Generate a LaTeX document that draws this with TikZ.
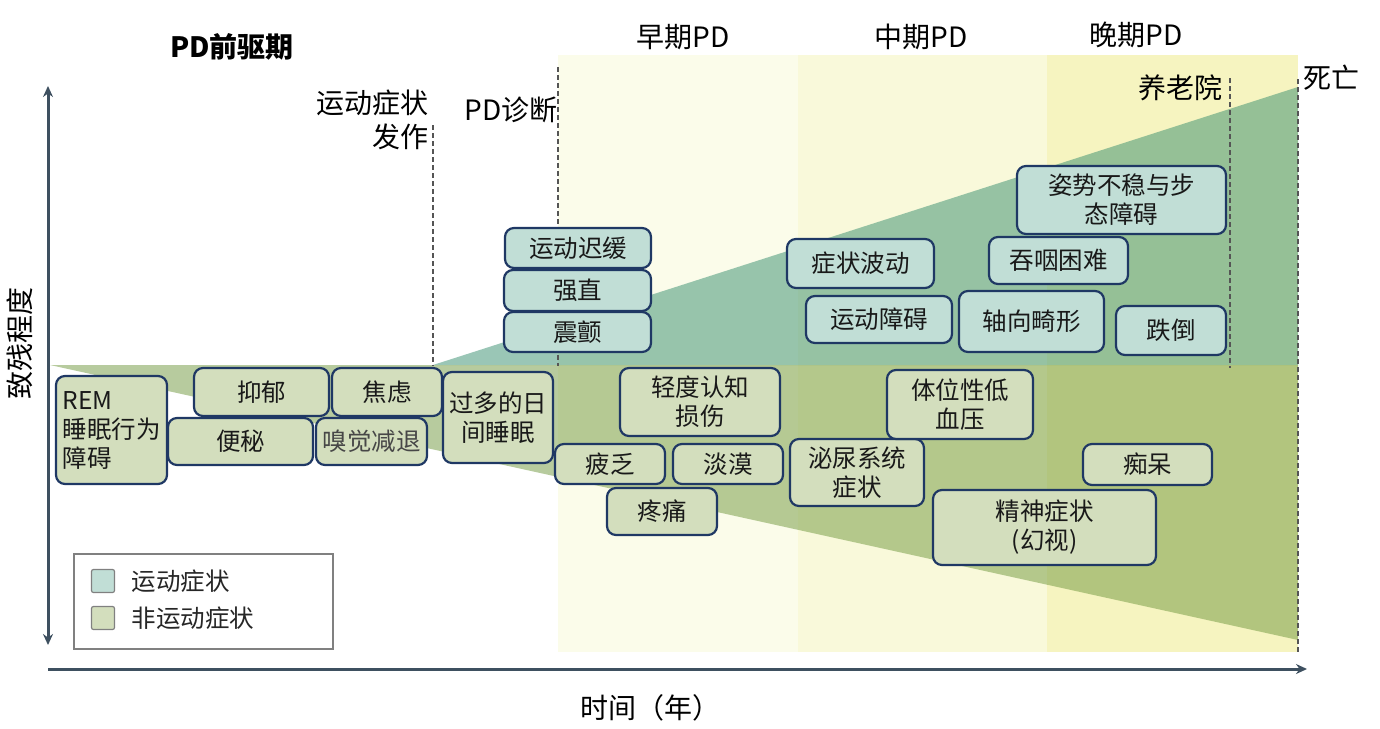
\documentclass[tikz,border=0pt]{standalone}
\usepackage{fontspec}
\setmainfont{Noto Sans CJK SC}
\usetikzlibrary{positioning,arrows.meta}

\definecolor{earlybg}{RGB}{251,252,234}
\definecolor{midbg}{RGB}{249,249,218}
\definecolor{latebg}{RGB}{246,244,192}
\definecolor{motorwedge}{RGB}{53,141,109}
\definecolor{nonmotorwedge}{RGB}{112,152,62}
\definecolor{motorfill}{RGB}{193,222,214}
\definecolor{nonmotorfill}{RGB}{211,222,189}
\definecolor{boxblue}{RGB}{31,56,100}
\definecolor{axisgray}{RGB}{62,80,96}
\definecolor{dashgray}{RGB}{85,85,85}

\newcommand\boxfont{\fontsize{24.5}{29}\selectfont}
\newcommand\labelfont{\fontsize{28}{34}\selectfont}

\begin{document}
\begin{tikzpicture}[x=1pt,y=-1pt,
    symbox/.style={draw=boxblue,line width=2.2pt,rounded corners=9pt,inner sep=0pt,align=center,font=\boxfont,text=black!90},
    motor/.style={symbox,fill=motorfill},
    nonmotor/.style={symbox,fill=nonmotorfill},
    phase/.style={font=\labelfont,text=black,inner sep=0pt},
    markline/.style={draw=dashgray,line width=1.5pt,dash pattern=on 5pt off 3pt},
    axisline/.style={draw=axisgray,line width=3pt},
    legendkey/.style={draw=gray,line width=1.2pt,rounded corners=2pt,minimum size=23pt,inner sep=0pt}]
    \useasboundingbox (0,0) rectangle (1380,728);
    %% stage panels
    \fill[earlybg] (558,55) rectangle (798,652);
    \fill[midbg] (798,55) rectangle (1047,652);
    \fill[latebg] (1047,55) rectangle (1298,652);
    %% wedges
    \fill[motorwedge,fill opacity=0.5] (433,365) -- (1298,87) -- (1298,365) -- cycle;
    \fill[nonmotorwedge,fill opacity=0.5] (50,365) -- (1298,365) -- (1298,640) -- cycle;
    %% milestones
    \draw[markline] (433,125) -- (433,366);
    \draw[markline] (558,67) -- (558,366);
    \draw[markline] (1230,78) -- (1230,368);
    \draw[markline] (1298,79) -- (1298,652);
    %% motor symptoms
    \node[motor,minimum width=146pt,minimum height=40pt] (brady) at (578,248) {运动迟缓};
    \node[motor,minimum width=147pt,minimum height=41pt] (rigid) at (577.5,290.5) {强直};
    \node[motor,minimum width=147pt,minimum height=40pt] (tremor) at (577.5,332) {震颤};
    \node[motor,minimum width=147pt,minimum height=49pt] (fluct) at (860.5,263.5) {症状波动};
    \node[motor,minimum width=146pt,minimum height=47pt] (dyskin) at (879,319.5) {运动障碍};
    \node[motor,minimum width=209pt,minimum height=68pt] (gait) at (1121.5,200) {姿势不稳与步\\态障碍};
    \node[motor,minimum width=139pt,minimum height=47pt] (swallow) at (1058.5,260.5) {吞咽困难};
    \node[motor,minimum width=145pt,minimum height=61pt] (axial) at (1031.5,321.5) {轴向畸形};
    \node[motor,minimum width=110pt,minimum height=49pt] (falls) at (1171,330.5) {跌倒};
    %% non-motor symptoms
    \node[nonmotor,align=left,minimum width=111pt,minimum height=108pt] (rbd) at (111.5,430) {REM\\睡眠行为\\障碍};
    \node[nonmotor,minimum width=135pt,minimum height=48pt] (depress) at (261.5,392) {抑郁};
    \node[nonmotor,minimum width=110pt,minimum height=48pt] (anxiety) at (387,392) {焦虑};
    \node[nonmotor,minimum width=145pt,minimum height=47pt] (constip) at (240.5,441.5) {便秘};
    \node[nonmotor,text=black!72,minimum width=111pt,minimum height=47pt] (smell) at (371.5,441.5) {嗅觉减退};
    \node[nonmotor,minimum width=110pt,minimum height=91pt] (eds) at (498,417.5) {过多的日\\间睡眠};
    \node[nonmotor,minimum width=160pt,minimum height=68pt] (mci) at (700,402) {轻度认知\\损伤};
    \node[nonmotor,minimum width=110pt,minimum height=40pt] (fatigue) at (610,464) {疲乏};
    \node[nonmotor,minimum width=110pt,minimum height=40pt] (apathy) at (728,464) {淡漠};
    \node[nonmotor,minimum width=110pt,minimum height=47pt] (pain) at (662,511.5) {疼痛};
    \node[nonmotor,minimum width=134pt,minimum height=67pt] (urinary) at (857,472.5) {泌尿系统\\症状};
    \node[nonmotor,minimum width=146pt,minimum height=69pt] (ortho) at (960,404.5) {体位性低\\血压};
    \node[nonmotor,minimum width=129pt,minimum height=41pt] (dementia) at (1147.5,464.5) {痴呆};
    \node[nonmotor,minimum width=223pt,minimum height=75pt] (psych) at (1044.5,527.5) {精神症状\\(幻视)};
    %% labels
    \node[phase,font=\labelfont\bfseries] (prodromal) at (232,47) {PD前驱期};
    \node[phase,align=right,anchor=east] (onset) at (429,120) {运动症状\\发作};
    \node[phase,anchor=east] (diagnosis) at (558,110) {PD诊断};
    \node[phase] (early) at (683,37) {早期PD};
    \node[phase] (middle) at (921,37) {中期PD};
    \node[phase] (late) at (1136,35) {晚期PD};
    \node[phase,anchor=east] (nursing) at (1223,88) {养老院};
    \node[phase,anchor=west] (death) at (1303,78) {死亡};
    \node[phase,rotate=90] (ylabel) at (20,343) {致残程度};
    \node[phase] (xlabel) at (650,708) {时间（年）};
    %% axes
    \draw[axisline,{Stealth[length=11pt,width=10pt]}-{Stealth[length=11pt,width=10pt]}] (48,86) -- (48,645);
    \draw[axisline,-{Stealth[length=11pt,width=10pt]}] (48,669) -- (1307,669);
    %% legend
    \draw[gray,line width=1.2pt,fill=white] (74,554) rectangle (333,649);
    \node[legendkey,fill=motorfill] (keymotor) at (103,581) {};
    \node[legendkey,fill=nonmotorfill] (keynonmotor) at (103,618) {};
    \node[font=\boxfont,text=black!85,anchor=west,right=13pt of keymotor] (txtmotor) {运动症状};
    \node[font=\boxfont,text=black!85,anchor=west,right=13pt of keynonmotor] (txtnonmotor) {非运动症状};
\end{tikzpicture}
\end{document}
